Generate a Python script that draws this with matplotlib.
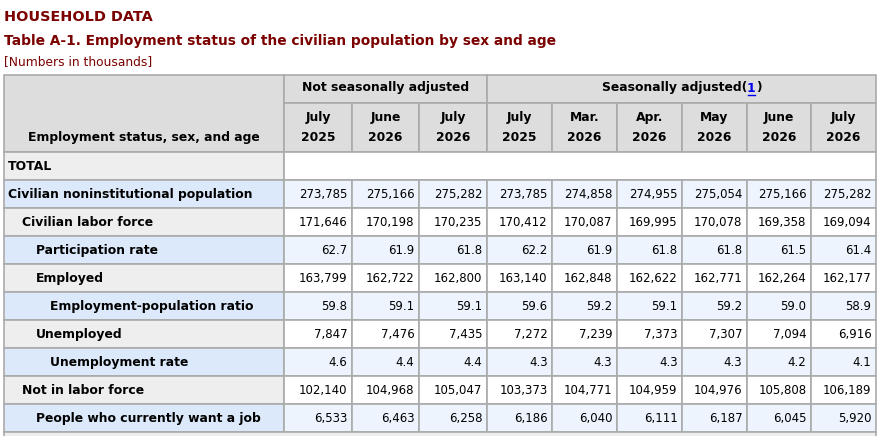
import matplotlib
matplotlib.use("Agg")
import matplotlib.pyplot as plt
from matplotlib.patches import Rectangle

plt.rcParams["font.family"] = ["DejaVu Sans"]

# ---- table content ----
row_labels = [
    "Civilian noninstitutional population",
    "Civilian labor force",
    "Participation rate",
    "Employed",
    "Employment-population ratio",
    "Unemployed",
    "Unemployment rate",
    "Not in labor force",
    "People who currently want a job",
]
row_levels = [0, 1, 2, 2, 3, 2, 3, 1, 2]

col_months = ["July", "June", "July", "July", "Mar.", "Apr.", "May", "June", "July"]
col_years = ["2025", "2026", "2026", "2025", "2026", "2026", "2026", "2026", "2026"]

civ_pop = ["273,785", "275,166", "275,282", "273,785", "274,858", "274,955", "275,054", "275,166", "275,282"]
labor_force = ["171,646", "170,198", "170,235", "170,412", "170,087", "169,995", "170,078", "169,358", "169,094"]
part_rate = ["62.7", "61.9", "61.8", "62.2", "61.9", "61.8", "61.8", "61.5", "61.4"]
employed = ["163,799", "162,722", "162,800", "163,140", "162,848", "162,622", "162,771", "162,264", "162,177"]
emp_pop_ratio = ["59.8", "59.1", "59.1", "59.6", "59.2", "59.1", "59.2", "59.0", "58.9"]
unemployed = ["7,847", "7,476", "7,435", "7,272", "7,239", "7,373", "7,307", "7,094", "6,916"]
unemp_rate = ["4.6", "4.4", "4.4", "4.3", "4.3", "4.3", "4.3", "4.2", "4.1"]
not_in_lf = ["102,140", "104,968", "105,047", "103,373", "104,771", "104,959", "104,976", "105,808", "106,189"]
want_job = ["6,533", "6,463", "6,258", "6,186", "6,040", "6,111", "6,187", "6,045", "5,920"]
values = [civ_pop, labor_force, part_rate, employed, emp_pop_ratio,
          unemployed, unemp_rate, not_in_lf, want_job]

# ---- styling / geometry (pixels) ----
W, H = 880, 436
MAROON = "#7b0000"
BORDER = "#aaaaaa"
HEAD_BG = "#dddddd"
GREY_BG = "#eeeeee"
BLUE_STUB = "#dbe9fb"
BLUE_CELL = "#eef4fd"
col_edges = [4, 284, 352, 419, 487, 552, 617, 682, 747, 811, 876]
top = 75
h1, h2 = 103, 152
row_h = 28
FS = 8.9      # bold labels / headers
FS_NUM = 8.5  # numbers

fig = plt.figure(figsize=(W / 100, H / 100), dpi=100)
ax = fig.add_axes([0, 0, 1, 1])
ax.set_xlim(0, W)
ax.set_ylim(H, 0)
ax.axis("off")

ax.text(4, 17, "HOUSEHOLD DATA", fontsize=10.4, fontweight="bold",
        color=MAROON, va="center", ha="left")
ax.text(4, 41, "Table A-1. Employment status of the civilian population by sex and age",
        fontsize=9.95, fontweight="bold", color=MAROON, va="center", ha="left")
ax.text(4, 62, "[Numbers in thousands]", fontsize=8.8, color=MAROON,
        va="center", ha="left")


def cell(x0, y0, x1, y1, fc):
    ax.add_patch(Rectangle((x0, y0), x1 - x0, y1 - y0, facecolor=fc,
                           edgecolor=BORDER, linewidth=1.2))


# header
cell(col_edges[0], top, col_edges[1], h2, HEAD_BG)
cell(col_edges[1], top, col_edges[4], h1, HEAD_BG)
cell(col_edges[4], top, col_edges[-1], h1, HEAD_BG)
for i in range(9):
    cell(col_edges[i + 1], h1, col_edges[i + 2], h2, HEAD_BG)
    xc = (col_edges[i + 1] + col_edges[i + 2]) / 2
    ax.text(xc, 117, col_months[i], fontsize=FS, fontweight="bold",
            ha="center", va="center")
    ax.text(xc, 137, col_years[i], fontsize=FS, fontweight="bold",
            ha="center", va="center")
ax.text((col_edges[0] + col_edges[1]) / 2, 137, "Employment status, sex, and age",
        fontsize=FS, fontweight="bold", ha="center", va="center")
ax.text((col_edges[1] + col_edges[4]) / 2, 88, "Not seasonally adjusted",
        fontsize=FS, fontweight="bold", ha="center", va="center")

# "Seasonally adjusted(1)" with the footnote link in blue
fig.canvas.draw()
rend = fig.canvas.get_renderer()
parts = [("Seasonally adjusted(", "black"), ("1", "#0000ee"), (")", "black")]
widths = []
for s, c in parts:
    t = ax.text(0, 0, s, fontsize=FS, fontweight="bold")
    widths.append(t.get_window_extent(rend).width)
    t.remove()
x = (col_edges[4] + col_edges[-1]) / 2 - sum(widths) / 2
for (s, c), w in zip(parts, widths):
    ax.text(x, 88, s, fontsize=FS, fontweight="bold", color=c, ha="left", va="center")
    if s == "1":
        ax.plot([x + 0.5, x + w - 0.5], [95, 95], color=c, lw=1)
    x += w

# TOTAL row
y = h2
cell(col_edges[0], y, col_edges[1], y + row_h, GREY_BG)
cell(col_edges[1], y, col_edges[-1], y + row_h, "white")
ax.text(8, y + row_h / 2, "TOTAL", fontsize=FS, fontweight="bold", va="center")
y += row_h

for r, (label, lvl, vals) in enumerate(zip(row_labels, row_levels, values)):
    blue = r % 2 == 0
    cell(col_edges[0], y, col_edges[1], y + row_h, BLUE_STUB if blue else GREY_BG)
    ax.text(8 + 14 * lvl, y + row_h / 2, label, fontsize=FS, fontweight="bold",
            va="center", ha="left")
    for i, v in enumerate(vals):
        cell(col_edges[i + 1], y, col_edges[i + 2], y + row_h,
             BLUE_CELL if blue else "white")
        ax.text(col_edges[i + 2] - 4.5, y + row_h / 2, v, fontsize=FS_NUM,
                va="center", ha="right")
    y += row_h

# next (cut off) row
cell(col_edges[0], y, col_edges[-1], y + row_h, GREY_BG)

fig.savefig("out.png", dpi=100)
